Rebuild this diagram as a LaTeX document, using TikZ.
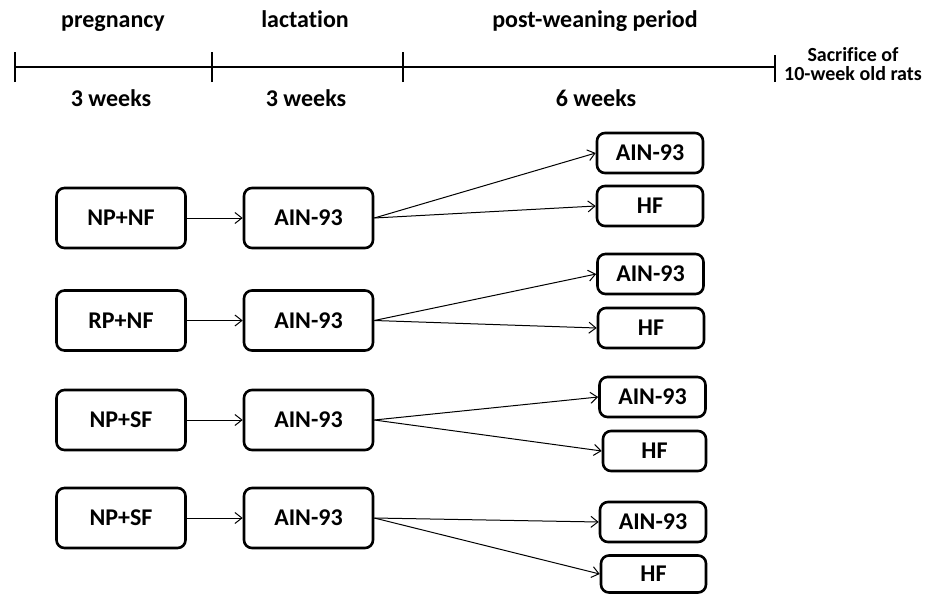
\documentclass[tikz,border=0pt]{standalone}
\usepackage{fontspec}
\setmainfont{Carlito}[Ligatures=NoCommon]
\usetikzlibrary{arrows.meta}

\tikzset{
    grp/.style={draw, line width=2.6pt, rounded corners=8pt, minimum width=129pt, minimum height=60pt, inner sep=0pt, font=\fontsize{24}{28}\selectfont\bfseries},
    diet/.style={grp, minimum width=106pt, minimum height=40pt},
    lbl/.style={anchor=base, inner sep=0pt, font=\fontsize{24}{28}\selectfont\bfseries},
    endlbl/.style={inner sep=0pt, align=center, font=\fontsize{20}{19.5}\selectfont\bfseries},
    arr/.style={-{Straight Barb[length=7pt, width=11pt]}, line width=1pt},
    tl/.style={line width=2.6pt}
}

\begin{document}
\begin{tikzpicture}[x=1pt, y=-1pt]
        \useasboundingbox (0,0) rectangle (934,594);
        \coordinate (t0) at (15, 67);
        \coordinate (t1) at (212, 67);
        \coordinate (t2) at (403, 67);
        \coordinate (t3) at (775, 67);
        \node[lbl] (preg) at (113, 28) {pregnancy};
        \node[lbl] (lact) at (305, 28) {lactation};
        \node[lbl] (post) at (595, 28) {post-weaning period};
        \node[lbl] (w1) at (111, 106) {3 weeks};
        \node[lbl] (w2) at (306, 106) {3 weeks};
        \node[lbl] (w3) at (596, 106) {6 weeks};
        \node[endlbl] (sac) at (853, 64) {Sacrifice of\\10-week old rats};
        \draw[tl] (t0) -- (t3);
        \draw[tl] ([yshift=-15pt]t0) -- ([yshift=15pt]t0);
        \draw[tl] ([yshift=-15pt]t1) -- ([yshift=15pt]t1);
        \draw[tl] ([yshift=-15pt]t2) -- ([yshift=15pt]t2);
        \draw[tl] ([yshift=-15pt]t3) -- ([yshift=12pt]t3);
        \node[grp] (a1) at (121, 218) {NP+NF};
        \node[grp] (b1) at (308.5, 218) {AIN-93};
        \node[diet] (c1) at (650, 153) {AIN-93};
        \node[diet] (d1) at (650, 206) {HF};
        \node[grp] (a2) at (121, 320.5) {RP+NF};
        \node[grp] (b2) at (308.5, 320.5) {AIN-93};
        \node[diet] (c2) at (650.5, 274) {AIN-93};
        \node[diet] (d2) at (651, 328) {HF};
        \node[grp] (a3) at (121, 420) {NP+SF};
        \node[grp] (b3) at (308.5, 420) {AIN-93};
        \node[diet] (c3) at (652.5, 397) {AIN-93};
        \node[diet, minimum width=103pt] (d3) at (654.5, 451) {HF};
        \node[grp] (a4) at (121, 518) {NP+SF};
        \node[grp] (b4) at (308.5, 518) {AIN-93};
        \node[diet] (c4) at (653, 522) {AIN-93};
        \node[diet, minimum width=105pt, minimum height=37pt] (d4) at (653.5, 574) {HF};
        \draw[arr] (a1) -- (b1);
        \draw[arr] (b1.east) -- (c1.west);
        \draw[arr] (b1.east) -- (d1.west);
        \draw[arr] (a2) -- (b2);
        \draw[arr] (b2.east) -- (c2.west);
        \draw[arr] (b2.east) -- (d2.west);
        \draw[arr] (a3) -- (b3);
        \draw[arr] (b3.east) -- (c3.west);
        \draw[arr] (b3.east) -- (d3.west);
        \draw[arr] (a4) -- (b4);
        \draw[arr] (b4.east) -- (c4.west);
        \draw[arr] (b4.east) -- (d4.west);
    \end{tikzpicture}
\end{document}
